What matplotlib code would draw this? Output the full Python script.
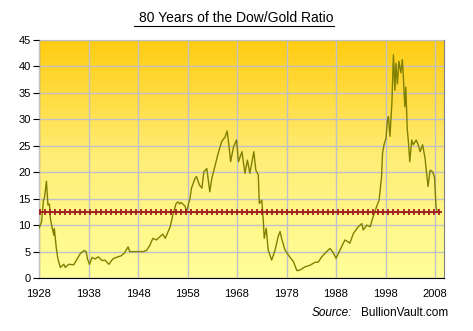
import numpy as np
import matplotlib.pyplot as plt
from matplotlib.colors import LinearSegmentedColormap
from matplotlib.lines import Line2D

# Dow/Gold ratio (year, ratio)
years = [1928.0, 1928.5, 1928.9, 1929.1, 1929.5, 1929.8, 1930.1, 1930.3, 1930.7, 1931.0,
         1931.1, 1931.5, 1931.8, 1932.3, 1933.0, 1933.3, 1934.0, 1935.0, 1935.7, 1936.4,
         1937.1, 1937.5, 1937.8, 1938.2, 1938.7, 1939.3, 1940.0, 1940.7, 1941.3, 1942.1,
         1942.9, 1943.6, 1944.6, 1945.3, 1946.0, 1946.3, 1947.0, 1948.0, 1949.0, 1949.7,
         1950.4, 1951.0, 1951.7, 1952.4, 1953.0, 1953.5, 1954.5, 1955.1, 1955.7, 1956.1,
         1956.4, 1956.7, 1957.5, 1957.8, 1958.5, 1958.8, 1959.5, 1959.8, 1960.4, 1960.9,
         1961.3, 1961.9, 1962.5, 1962.9, 1963.6, 1964.2, 1964.9, 1965.6, 1966.0, 1966.4,
         1966.7, 1967.3, 1967.9, 1968.3, 1969.0, 1969.6, 1970.1, 1970.6, 1971.4, 1971.8,
         1972.3, 1972.5, 1973.0, 1973.3, 1973.5, 1973.9, 1974.3, 1975.0, 1975.7, 1976.3,
         1976.7, 1977.0, 1977.7, 1978.4, 1979.4, 1980.1, 1980.7, 1981.7, 1982.7, 1983.8,
         1984.4, 1985.1, 1986.1, 1986.8, 1987.5, 1988.0, 1988.8, 1989.8, 1990.8, 1991.5,
         1992.5, 1993.2, 1993.5, 1994.2, 1994.9, 1995.5, 1996.2, 1996.7, 1997.2, 1997.4,
         1997.7, 1998.1, 1998.4, 1998.6, 1998.9, 1999.3, 1999.6, 1999.9, 2000.1, 2000.4,
         2000.7, 2001.1, 2001.4, 2001.6, 2001.9, 2002.1, 2002.4, 2002.6, 2002.9, 2003.3,
         2003.6, 2004.2, 2004.6, 2005.0, 2005.5, 2006.0, 2006.3, 2006.6, 2007.0, 2007.5,
         2007.9, 2008.2, 2008.5]
ratio = [9.4, 10.6, 14.7, 15.2, 18.3, 13.8, 14.0, 11.2, 9.3, 8.1,
         9.3, 5.6, 3.7, 2.0, 2.6, 2.0, 2.6, 2.5, 3.6, 4.7,
         5.2, 5.0, 3.6, 2.6, 3.9, 3.6, 4.0, 3.3, 3.4, 2.6,
         3.6, 3.9, 4.2, 4.8, 5.9, 5.0, 5.0, 5.0, 5.0, 5.2,
         6.2, 7.5, 7.2, 7.8, 8.3, 7.5, 9.7, 12.2, 14.1, 14.4,
         14.0, 14.3, 13.6, 12.5, 15.1, 17.0, 18.8, 19.2, 17.6, 17.0,
         20.1, 20.7, 16.3, 18.8, 21.4, 23.6, 25.8, 26.7, 27.8, 24.8,
         22.0, 24.8, 26.1, 22.0, 23.9, 19.8, 22.3, 19.8, 23.9, 20.4,
         19.5, 14.1, 14.7, 11.0, 7.5, 9.4, 5.3, 3.4, 5.3, 7.8,
         8.8, 7.5, 5.3, 4.3, 3.1, 1.4, 1.5, 2.1, 2.4, 3.0,
         3.0, 4.0, 5.0, 5.6, 4.7, 3.7, 5.3, 7.2, 6.6, 8.4,
         9.7, 10.3, 9.1, 10.0, 9.7, 11.6, 13.5, 14.7, 19.1, 23.6,
         25.2, 26.4, 29.9, 30.5, 26.8, 33.3, 42.2, 35.5, 40.6, 36.7,
         41.0, 38.8, 41.3, 38.2, 32.4, 36.1, 28.0, 26.1, 22.0, 26.1,
         25.2, 26.1, 25.2, 23.9, 25.2, 22.6, 19.8, 17.3, 20.4, 20.1,
         19.1, 13.5, 12.5]
average_ratio = 12.5

fig = plt.figure(figsize=(4.73, 3.31), dpi=100)
ax = fig.add_axes([0.0825, 0.160, 0.856, 0.719])

x0, x1 = 1928, 2009.8
ax.set_xlim(x0, x1)
ax.set_ylim(0, 45)

# gradient background
cmap = LinearSegmentedColormap.from_list('bg', ['#FFFF99', '#FFEE77', '#FFCC11'])
grad = np.linspace(0, 1, 256).reshape(-1, 1)
ax.imshow(grad, extent=[x0, x1, 0, 45], origin='lower', aspect='auto',
          cmap=cmap, zorder=0)

ax.set_xticks(range(1928, 2009, 10))
ax.set_yticks(range(0, 46, 5))
ax.grid(True, color='#C0C0C8', linewidth=1)
ax.set_axisbelow(False)
for gl in ax.get_xgridlines() + ax.get_ygridlines():
    gl.set_zorder(1)

ax.plot(years, ratio, color='#808000', linewidth=1, zorder=3)
# average line with small cross markers
mx = np.arange(x0 + 0.2, x1, 1.02)
ax.plot(mx, np.full_like(mx, average_ratio), linestyle='-', linewidth=0.8,
        marker='+', markersize=4, markeredgewidth=1.3, color='#A02020', zorder=4)

for s in ['top', 'right']:
    ax.spines[s].set_color('#808080')
for s in ['left', 'bottom']:
    ax.spines[s].set_color('black')
ax.tick_params(axis='y', length=4, labelsize=8, pad=2)
ax.tick_params(axis='x', length=0, labelsize=8, pad=8)
for lab in ax.get_xticklabels() + ax.get_yticklabels():
    lab.set_fontfamily('Liberation Sans')

fig.text(0.4995, 0.935, '80 Years of the Dow/Gold Ratio', ha='center', va='baseline',
         fontsize=10, family='Liberation Sans')
fig.add_artist(Line2D([0.283, 0.707], [0.92, 0.92], color='black', linewidth=0.8))

fig.text(0.947, 0.045, 'BullionVault.com', ha='right', va='baseline', fontsize=8.5,
         family='Liberation Sans')
fig.text(0.745, 0.045, 'Source:', ha='right', va='baseline', fontsize=8.5,
         style='italic', family='Liberation Sans')

fig.savefig('out.png', dpi=100)
